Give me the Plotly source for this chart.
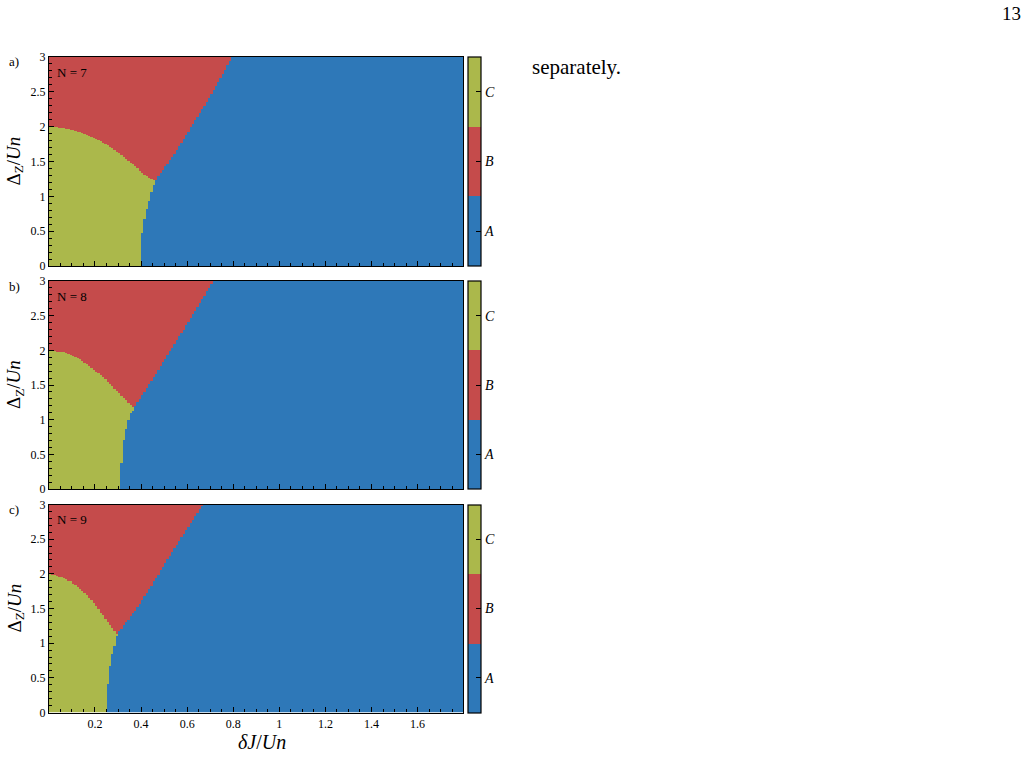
import numpy as np
import plotly.graph_objects as go

W, H = 1028, 757

# ---- data (boundaries between phases) ----
panel_labels = ["a)", "b)", "c)"]
panel_N = ["N = 7", "N = 8", "N = 9"]

# C/B boundary  (Delta_Z as function of dJ)
bc_x_7 = [0.0, 0.070, 0.142, 0.214, 0.287, 0.359, 0.417, 0.461]
bc_y_7 = [2.0, 1.976, 1.913, 1.808, 1.665, 1.474, 1.306, 1.224]
bc_x_8 = [0.0, 0.070, 0.128, 0.186, 0.243, 0.301, 0.345, 0.371]
bc_y_8 = [2.0, 1.968, 1.881, 1.751, 1.582, 1.389, 1.244, 1.165]
bc_x_9 = [0.0, 0.055, 0.098, 0.142, 0.186, 0.229, 0.265, 0.296]
bc_y_9 = [2.0, 1.954, 1.882, 1.762, 1.618, 1.426, 1.258, 1.130]

# C/A boundary  (dJ as function of Delta_Z)
ca_y_7 = [0.0, 0.40, 0.58, 0.76, 0.90, 1.03, 1.13, 1.224]
ca_x_7 = [0.398, 0.402, 0.410, 0.420, 0.432, 0.442, 0.452, 0.461]
ca_y_8 = [0.0, 0.20, 0.42, 0.68, 0.86, 0.985, 1.085, 1.165]
ca_x_8 = [0.308, 0.310, 0.316, 0.324, 0.334, 0.344, 0.355, 0.371]
ca_y_9 = [0.0, 0.25, 0.50, 0.75, 0.90, 1.02, 1.130]
ca_x_9 = [0.247, 0.250, 0.258, 0.268, 0.280, 0.290, 0.296]

# B/A boundary  (dJ as function of Delta_Z)
ba_y_7 = [1.224, 1.593, 1.976, 2.358, 2.690, 3.0]
ba_x_7 = [0.461, 0.541, 0.613, 0.686, 0.743, 0.795]
ba_y_8 = [1.165, 1.606, 1.992, 2.378, 2.690, 3.0]
ba_x_8 = [0.369, 0.454, 0.526, 0.599, 0.657, 0.712]
ba_y_9 = [1.130, 1.500, 1.880, 2.270, 2.650, 3.0]
ba_x_9 = [0.296, 0.381, 0.454, 0.526, 0.599, 0.668]

phase_names = ["<i>A</i>", "<i>B</i>", "<i>C</i>"]
phase_colors = ["#2e78b8", "#c54b4b", "#abb84b"]

x_ticks = [0.2, 0.4, 0.6, 0.8, 1.0, 1.2, 1.4, 1.6]
y_ticks = [0, 0.5, 1, 1.5, 2, 2.5, 3]

# grid of the original calculation
dj = np.arange(180) * 0.01 + 0.005
dz = np.arange(300) * 0.01 + 0.005


def phase_grid(bcx, bcy, cay, cax, bay, bax):
    X, Y = np.meshgrid(dj, dz)
    yt = bcy[-1]
    xca = np.interp(Y, cay, cax)
    xba = np.interp(Y, bay, bax)
    ybc = np.interp(X, bcx, bcy, right=-1)
    Z = np.ones_like(X)  # B
    low = Y <= yt
    Z[low & (X > xca)] = 0
    Z[low & (X <= xca)] = 2
    high = ~low
    Z[high & (X > xba)] = 0
    Z[high & (X <= xba) & (Y < ybc)] = 2
    return Z


grids = [
    phase_grid(bc_x_7, bc_y_7, ca_y_7, ca_x_7, ba_y_7, ba_x_7),
    phase_grid(bc_x_8, bc_y_8, ca_y_8, ca_x_8, ba_y_8, ba_x_8),
    phase_grid(bc_x_9, bc_y_9, ca_y_9, ca_x_9, ba_y_9, ba_x_9),
]

colorscale = [
    [0.0, phase_colors[0]], [1 / 3, phase_colors[0]],
    [1 / 3, phase_colors[1]], [2 / 3, phase_colors[1]],
    [2 / 3, phase_colors[2]], [1.0, phase_colors[2]],
]

# pixel geometry
px_left, px_right = 49, 463
panel_top = [57, 281, 504.5]
panel_bot = [266, 489, 712.5]
cb_left, cb_w = 468, 13

FONT = "Liberation Serif, DejaVu Serif, serif"

fig = go.Figure()
layout = dict(
    width=W, height=H,
    margin=dict(l=0, r=0, t=0, b=0, pad=0, autoexpand=False),
    paper_bgcolor="white", plot_bgcolor="white",
    font=dict(family=FONT, size=12, color="black"),
    showlegend=False,
)
annotations = []

for i in range(3):
    xa = "x" if i == 0 else f"x{i + 1}"
    ya = "y" if i == 0 else f"y{i + 1}"
    y0 = 1 - panel_bot[i] / H
    y1 = 1 - panel_top[i] / H
    fig.add_trace(go.Heatmap(
        x=dj, y=dz, z=grids[i], xaxis=xa, yaxis=ya,
        colorscale=colorscale, zmin=-0.5, zmax=2.5, zsmooth=False,
        hoverinfo="skip",
        colorbar=dict(
            x=cb_left / W, xanchor="left", xpad=0,
            y=y1, yanchor="top", ypad=0,
            len=(y1 - y0), lenmode="fraction",
            thickness=cb_w, thicknessmode="pixels",
            outlinewidth=1.2, outlinecolor="black",
            tickvals=[0, 1, 2], ticktext=phase_names,
            ticks="inside", ticklen=5, tickwidth=1, tickcolor="black",
            tickfont=dict(family=FONT, size=14),
        ),
    ))
    axkey_x = "xaxis" if i == 0 else f"xaxis{i + 1}"
    axkey_y = "yaxis" if i == 0 else f"yaxis{i + 1}"
    layout[axkey_x] = dict(
        domain=[px_left / W, px_right / W], anchor=ya,
        range=[0.0005, 1.797], tickmode="array", tickvals=x_ticks,
        ticktext=["0.2", "0.4", "0.6", "0.8", "1", "1.2", "1.4", "1.6"],
        showticklabels=(i == 2),
        ticks="inside", ticklen=5, tickwidth=1, tickcolor="black",
        minor=dict(tickmode="linear", tick0=0, dtick=0.05, ticks="inside",
                   ticklen=3, tickwidth=1, tickcolor="black", showgrid=False),
        showline=True, linecolor="black", linewidth=1.3, mirror=True,
        showgrid=False, zeroline=False, automargin=False,
        tickfont=dict(family=FONT, size=12),
    )
    layout[axkey_y] = dict(
        domain=[y0, y1], anchor=xa,
        range=[0, 3], tickmode="array", tickvals=y_ticks,
        ticktext=["0", "0.5", "1", "1.5", "2", "2.5", "3"],
        ticks="inside", ticklen=5, tickwidth=1, tickcolor="black",
        minor=dict(tickmode="linear", tick0=0, dtick=0.1, ticks="inside",
                   ticklen=3, tickwidth=1, tickcolor="black", showgrid=False),
        showline=True, linecolor="black", linewidth=1.3, mirror=True,
        showgrid=False, zeroline=False, automargin=False,
        tickfont=dict(family=FONT, size=12),
    )
    # panel letter
    annotations.append(dict(
        x=7 / W, y=1 - (panel_top[i] + 5) / H, xref="paper", yref="paper",
        text=panel_labels[i], showarrow=False, xanchor="left", yanchor="middle",
        font=dict(family=FONT, size=13)))
    # N label
    annotations.append(dict(
        x=55 / W, y=1 - (panel_top[i] + 15) / H, xref="paper", yref="paper",
        text=panel_N[i], showarrow=False, xanchor="left", yanchor="middle",
        font=dict(family=FONT, size=13)))
    # y title
    annotations.append(dict(
        x=15 / W, y=1 - (panel_top[i] + panel_bot[i]) / 2 / H,
        xref="paper", yref="paper",
        text="Δ<sub>Z</sub>/<i>Un</i>", textangle=-90, showarrow=False,
        xanchor="center", yanchor="middle",
        font=dict(family=FONT, size=19)))

annotations.append(dict(
    x=262 / W, y=1 - 742 / H, xref="paper", yref="paper",
    text="<i>δJ</i>/<i>Un</i>", showarrow=False, xanchor="center", yanchor="middle",
    font=dict(family=FONT, size=20)))
annotations.append(dict(
    x=530 / W, y=1 - 67 / H, xref="paper", yref="paper",
    text="separately.", showarrow=False, xanchor="left", yanchor="middle",
    font=dict(family=FONT, size=21)))
annotations.append(dict(
    x=1023 / W, y=1 - 14 / H, xref="paper", yref="paper",
    text="13", showarrow=False, xanchor="right", yanchor="middle",
    font=dict(family=FONT, size=19)))

layout["annotations"] = annotations
fig.update_layout(**layout)
fig.write_html("out.html")
